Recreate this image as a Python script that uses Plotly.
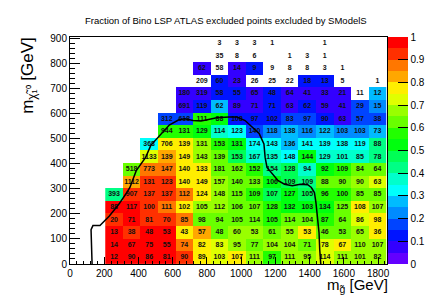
import math
import plotly.graph_objects as go

title = "Fraction of Bino LSP ATLAS excluded points excluded by SModelS"

# bin edges (GeV)
x_edges = [206.0 + 102.6 * i for i in range(17)]
y_edges = [50.3 * i for i in range(19)]

x_ticks = list(range(0, 1801, 200))
y_ticks = list(range(0, 901, 100))
cbar_ticks = [0, 0.1, 0.2, 0.3, 0.4, 0.5, 0.6, 0.7, 0.8, 0.9, 1]
cbar_labels = ["0", "0.1", "0.2", "0.3", "0.4", "0.5", "0.6", "0.7", "0.8", "0.9", "1"]

N = None
# number of ATLAS-excluded points per cell (rows from bottom)
counts = [
    [12, 90, 86, 81, 90, 89, 103, 107, 111, 97, 111, 95, 114, 111, 101, 82],
    [14, 67, 75, 55, 74, 82, 83, 95, 77, 104, 104, 71, 78, 67, 110, 107],
    [13, 38, 48, 53, 43, 57, 48, 60, 53, 61, 55, 53, 46, 53, 65, 36],
    [20, 71, 81, 70, 85, 98, 94, 105, 114, 105, 114, 104, 87, 64, 86, 98],
    [88, 117, 100, 111, 102, 105, 112, 106, 107, 128, 132, 103, 134, 125, 108, 107],
    [393, 907, 137, 137, 112, 124, 148, 115, 109, 107, 127, 105, 96, 100, 85, 85],
    [N, 1112, 131, 123, 140, 149, 157, 140, 133, 106, 109, 109, 88, 90, 90, 63],
    [N, 518, 773, 147, 140, 133, 181, 162, 152, 154, 128, 94, 92, 109, 84, 64],
    [N, N, 1133, 139, 149, 143, 139, 153, 167, 135, 148, 144, 129, 101, 85, 78],
    [N, N, 368, 706, 139, 131, 153, 131, 174, 143, 136, 141, 139, 138, 119, 88],
    [N, N, N, 944, 131, 129, 114, 123, 140, 118, 138, 116, 122, 103, 103, 73],
    [N, N, N, 312, 618, 111, 88, 108, 97, 102, 83, 97, 90, 63, 57, 38],
    [N, N, N, N, 691, 119, 62, 89, 71, 71, 63, 62, 59, 41, 29, 15],
    [N, N, N, N, 180, 319, 58, 55, 65, 48, 64, 41, 33, 21, 11, 12],
    [N, N, N, N, N, 209, 60, 23, 26, 25, 22, 18, 13, 5, N, 1],
    [N, N, N, N, N, 62, 58, 14, 9, 9, 8, 8, 3, 1, N, N],
    [N, N, N, N, N, N, 35, 8, 6, N, 1, 3, 1, N, N, N],
    [N, N, N, N, N, N, 3, 3, 3, 1, N, N, 1, N, N, N],
]

# fraction excluded by SModelS (colour), 0 = not painted
fraction = [
    [.97, .97, .97, .97, .92, .77, .72, .77, .67, .57, .67, .67, .72, .67, .67, .67],
    [.97, .97, .97, .97, .87, .77, .72, .67, .62, .67, .67, .62, .72, .77, .67, .67],
    [.97, .92, .97, .97, .77, .82, .62, .67, .67, .62, .67, .77, .62, .62, .67, .77],
    [.92, .97, .92, .92, .87, .62, .62, .62, .62, .57, .62, .62, .57, .62, .72, .77],
    [.97, .97, .92, .87, .77, .67, .67, .62, .62, .57, .52, .52, .52, .62, .77, .67],
    [.42, .92, .92, .92, .87, .77, .67, .62, .57, .47, .52, .47, .57, .57, .62, .62],
    [N, .82, .92, .92, .77, .77, .67, .62, .62, .52, .47, .42, .62, .62, .67, .72],
    [N, .62, .87, .87, .77, .77, .62, .62, .57, .42, .47, .37, .52, .57, .62, .62],
    [N, N, .72, .82, .77, .67, .62, .47, .37, .37, .32, .52, .37, .37, .37, .42],
    [N, N, .32, .77, .77, .67, .57, .52, .32, .32, .27, .32, .32, .32, .32, .42],
    [N, N, N, .57, .57, .52, .37, .32, .17, .22, .27, .22, .27, .22, .22, .27],
    [N, N, N, .17, .17, .57, .52, .12, .12, .12, .17, .17, .12, .07, .17, .17],
    [N, N, N, N, .07, .12, .27, .07, .07, .12, .07, .12, .07, .07, .17, .22],
    [N, N, N, N, .07, .07, .12, .12, .07, .12, .07, .07, .07, .07, 0, .27],
    [N, N, N, N, N, 0, .12, .07, 0, 0, 0, .12, .12, 0, N, 0],
    [N, N, N, N, N, .07, 0, .07, .12, 0, 0, 0, 0, 0, N, N],
    [N, N, N, N, N, N, 0, 0, 0, N, 0, 0, 0, N, N, N],
    [N, N, N, N, N, N, 0, 0, 0, 0, N, N, 0, N, N, N],
]

# ATLAS exclusion contour
contour_x = [129, 123, 134, 175, 230, 285, 332, 350, 387, 442, 472, 525, 580, 636, 671, 719,
             765, 802, 857, 930, 975, 1023, 1078, 1106, 1133, 1140, 1151, 1189, 1216, 1253,
             1299, 1345, 1389, 1410, 1428, 1437, 1446, 1455, 1459, 1465]
contour_y = [0, 137, 153, 153, 191, 238, 285, 305, 372, 425, 473, 513, 554, 575, 579, 572,
             570, 575, 583, 586, 586, 572, 539, 519, 479, 425, 385, 352, 332, 318,
             312, 318, 316, 305, 285, 244, 192, 124, 57, 0]

# ROOT "pretty" palette, 20 contour levels
def hls_to_rgb(h):
    h = h % 360
    def f(n):
        k = (n + h / 30.0) % 12
        return 0.5 - 0.5 * max(-1, min(k - 3, 9 - k, 1))
    return tuple(int(round(255 * f(n))) for n in (0, 8, 4))

ncont = 20
band_colors = []
for k in range(ncont):
    p = int((k + 0.99) * 50 / ncont)
    hue = 0.0 if p >= 49 else 280 - (p + 1) * 5.6
    r, g, b = hls_to_rgb(hue)
    band_colors.append(f"rgb({r},{g},{b})")
colorscale = []
for k, c in enumerate(band_colors):
    colorscale.append([k / ncont, c])
    colorscale.append([(k + 1) / ncont, c])

z = [[(v if (v is not None and v > 0) else math.nan) for v in row] for row in fraction]
x_cent = [(x_edges[i] + x_edges[i + 1]) / 2 for i in range(len(x_edges) - 1)]
y_cent = [(y_edges[i] + y_edges[i + 1]) / 2 for i in range(len(y_edges) - 1)]

tx, ty, tt = [], [], []
for r, row in enumerate(counts):
    for c, v in enumerate(row):
        if v is not None:
            tx.append(x_cent[c]); ty.append(y_cent[r]); tt.append(str(v))

FONT = "Liberation Sans, Arial, Helvetica, sans-serif"
L, R, T, B = 62, 43, 29, 42
W, H = 440, 298
pw, ph = W - L - R, H - T - B

fig = go.Figure()
fig.add_trace(go.Heatmap(
    x=x_edges, y=y_edges, z=z, zmin=0, zmax=1, colorscale=colorscale,
    hoverinfo="skip",
    colorbar=dict(
        x=(398.5 - L) / pw, xanchor="left", xpad=0, y=0.5, yanchor="middle",
        len=1, lenmode="fraction", ypad=0, thickness=20, outlinewidth=0,
        tickvals=cbar_ticks, ticktext=cbar_labels, ticks="inside", ticklen=10,
        tickcolor="black", tickwidth=1,
        tickfont=dict(family=FONT, size=10, color="black"),
    ),
))
fig.add_trace(go.Scatter(
    x=tx, y=ty, text=tt, mode="text", hoverinfo="skip",
    textfont=dict(family=FONT, size=7, color="#111", weight="bold"),
))
fig.add_trace(go.Scatter(
    x=contour_x, y=contour_y, mode="lines", hoverinfo="skip",
    line=dict(color="black", width=1.5),
))

axis_common = dict(
    showline=True, mirror=True, linecolor="black", linewidth=1,
    ticks="inside", tickcolor="black", showgrid=False, zeroline=False,
    layer="above traces", tickfont=dict(family=FONT, size=10, color="black"),
)
fig.update_xaxes(range=[0, 1852], tickvals=x_ticks, ticklen=7,
                 minor=dict(dtick=40, tick0=0, ticks="inside", ticklen=3.5, tickcolor="black"),
                 **axis_common)
fig.update_yaxes(range=[0, 905], tickvals=y_ticks, ticklen=10,
                 minor=dict(dtick=20, tick0=0, ticks="inside", ticklen=5, tickcolor="black"),
                 **axis_common)

def px(xp):
    return (xp - L) / pw

def py(yp):
    return (H - B - yp) / ph

annotations = [
    dict(text=title, x=px(227), y=py(12.5), xref="paper", yref="paper",
         xanchor="center", yanchor="middle", showarrow=False,
         font=dict(family=FONT, size=9.5, color="black")),
    dict(text="m<sub>g̃</sub> [GeV]", x=px(331), y=py(277), xref="paper", yref="paper",
         xanchor="left", yanchor="middle", showarrow=False,
         font=dict(family=FONT, size=15, color="black")),
    dict(text="m<sub>χ̃₁⁰</sub> [GeV]", x=px(19), y=py(27), xref="paper", yref="paper",
         xanchor="center", yanchor="top", showarrow=False, textangle=-90,
         font=dict(family=FONT, size=17, color="black")),
]

fig.update_layout(
    width=W, height=H, margin=dict(l=L, r=R, t=T, b=B),
    paper_bgcolor="white", plot_bgcolor="white", showlegend=False,
    annotations=annotations,
    shapes=[dict(type="line", xref="paper", yref="paper",
                 x0=px(418.5), x1=px(418.5), y0=0, y1=1,
                 line=dict(color="#777", width=1))],
)
fig.write_html("out.html")
